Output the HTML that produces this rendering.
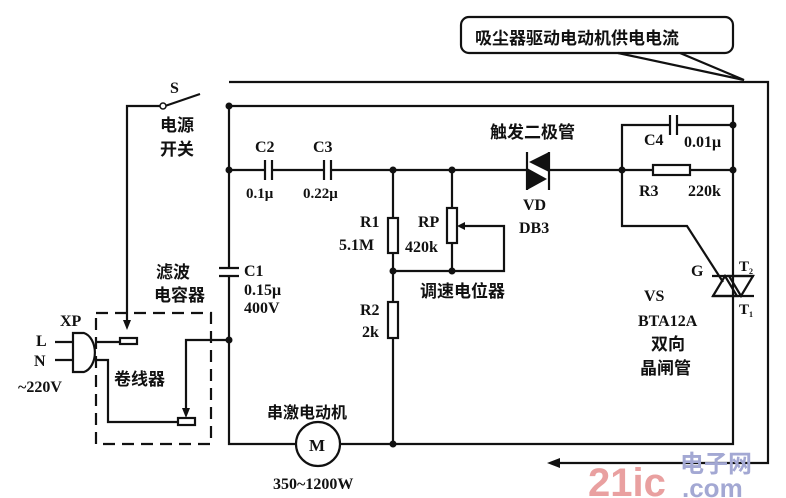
<!DOCTYPE html>
<html><head><meta charset="utf-8"><style>
html,body{margin:0;padding:0;background:#fff}
svg{display:block}
text{font-family:"Liberation Serif","Noto Serif CJK SC","Noto Sans CJK SC",serif;font-weight:bold;fill:#111}
.c{font-family:"Liberation Sans","Noto Sans CJK SC",sans-serif;font-weight:bold}
</style></head><body>
<svg width="786" height="498" viewBox="0 0 786 498" xmlns="http://www.w3.org/2000/svg">
<g stroke="#111" stroke-width="2.2" fill="none">
<rect x="461" y="17" width="272" height="36" rx="8"/>
<polyline points="618,53 744,80 680,53"/>
<polyline points="229,82 768,82 768,463 555,463"/>
<polyline points="229,268 229,106 733,106 733,444 229,444 229,276"/>
<polyline points="160,106 127,106 127,322"/>
<line x1="165" y1="106" x2="200" y2="94"/>
<line x1="229" y1="170" x2="265" y2="170"/><line x1="272" y1="170" x2="324" y2="170"/><line x1="331" y1="170" x2="527" y2="170"/>
<line x1="549" y1="170" x2="733" y2="170"/>
<line x1="265" y1="160" x2="265" y2="180"/><line x1="272" y1="160" x2="272" y2="180"/>
<line x1="324" y1="160" x2="324" y2="180"/><line x1="331" y1="160" x2="331" y2="180"/>
<line x1="393" y1="170" x2="393" y2="444"/>
<rect x="388" y="218" width="10" height="35" fill="#fff"/>
<rect x="388" y="302" width="10" height="36" fill="#fff"/>
<line x1="393" y1="271" x2="452" y2="271"/>
<line x1="452" y1="170" x2="452" y2="271"/>
<rect x="447" y="208" width="10" height="35" fill="#fff"/>
<polyline points="462,226 504,226 504,271 452,271"/>
<line x1="527" y1="152" x2="527" y2="190"/><line x1="549" y1="152" x2="549" y2="190"/>
<polyline points="670,125 622,125 622,226 687,226 723,282"/>
<line x1="677" y1="125" x2="733" y2="125"/>
<line x1="670" y1="115" x2="670" y2="135"/><line x1="677" y1="115" x2="677" y2="135"/>
<rect x="653" y="165" width="37" height="10" fill="#fff"/>
<line x1="712" y1="276" x2="754" y2="276"/><line x1="712" y1="296" x2="754" y2="296"/>
<polygon points="713,296 725,276 737,296"/><polygon points="729,276 753,276 741,296"/>
<line x1="219" y1="268" x2="239" y2="268"/><line x1="219" y1="276" x2="239" y2="276"/>
<path d="M73,333 L84,333 A14,20 0 0 1 84,372 L73,372 Z"/>
<line x1="55" y1="342" x2="73" y2="342"/><line x1="55" y1="360" x2="73" y2="360"/>
<line x1="95" y1="342" x2="120" y2="342"/>
<polyline points="95,360 108,360 108,422 178,422"/>
<rect x="120" y="338" width="17" height="6"/>
<rect x="178" y="418" width="17" height="7"/>
<polyline points="229,340 186,340 186,414"/>
<rect x="96" y="313" width="115" height="131" stroke-dasharray="12,7"/>
<circle cx="318" cy="444" r="22" fill="#fff"/>
</g>
<g fill="#111">
<polygon points="549,152 549,172 529,162"/><polygon points="527,168 527,190 547,179"/>
<circle cx="229" cy="106" r="3.5"/><circle cx="229" cy="170" r="3.5"/><circle cx="229" cy="340" r="3.5"/>
<circle cx="393" cy="170" r="3.5"/><circle cx="452" cy="170" r="3.5"/><circle cx="393" cy="271" r="3.5"/><circle cx="452" cy="271" r="3.5"/><circle cx="393" cy="444" r="3.5"/>
<circle cx="622" cy="170" r="3.5"/><circle cx="733" cy="170" r="3.5"/><circle cx="733" cy="125" r="3.5"/>
<circle cx="163" cy="106" r="3" fill="#fff" stroke="#111" stroke-width="1.5"/>
<polygon points="547,463 560,458 560,468"/>
<polygon points="457,226 465,222 465,230"/>
<polygon points="127,330 123,320 131,320"/><polygon points="186,418 182,408 190,408"/>
</g>
<text x="475" y="44" font-size="17" class="c">吸尘器驱动电动机供电电流</text>
<text x="170" y="93" font-size="16">S</text>
<text x="160" y="131" font-size="17" class="c">电源</text><text x="160" y="155" font-size="17" class="c">开关</text>
<text x="255" y="152" font-size="16">C2</text><text x="313" y="152" font-size="16">C3</text>
<text x="246" y="198" font-size="15">0.1μ</text><text x="303" y="198" font-size="15">0.22μ</text>
<text x="360" y="227" font-size="16">R1</text><text x="339" y="250" font-size="16">5.1M</text>
<text x="418" y="227" font-size="16">RP</text><text x="405" y="252" font-size="16">420k</text>
<text x="360" y="315" font-size="16">R2</text><text x="362" y="337" font-size="16">2k</text>
<text x="490" y="138" font-size="17" class="c">触发二极管</text>
<text x="523" y="210" font-size="16">VD</text><text x="519" y="233" font-size="16">DB3</text>
<text x="644" y="145" font-size="16">C4</text><text x="684" y="147" font-size="16">0.01μ</text>
<text x="639" y="196" font-size="16">R3</text><text x="688" y="196" font-size="16">220k</text>
<text x="420" y="297" font-size="17" class="c">调速电位器</text>
<text x="691" y="276" font-size="16">G</text><text x="739" y="271" font-size="15">T</text><text x="749" y="274" font-size="8">2</text>
<text x="739" y="314" font-size="15">T</text><text x="749" y="317" font-size="8">1</text>
<text x="644" y="301" font-size="16">VS</text><text x="638" y="326" font-size="16">BTA12A</text>
<text x="651" y="350" font-size="17" class="c">双向</text><text x="640" y="374" font-size="17" class="c">晶闸管</text>
<text x="244" y="276" font-size="16">C1</text><text x="244" y="295" font-size="16">0.15μ</text><text x="244" y="313" font-size="16">400V</text>
<text x="156" y="278" font-size="17" class="c">滤波</text><text x="154" y="301" font-size="17" class="c">电容器</text>
<text x="60" y="326" font-size="16">XP</text><text x="36" y="346" font-size="16">L</text><text x="34" y="366" font-size="16">N</text>
<text x="18" y="392" font-size="16">~220V</text>
<text x="114" y="385" font-size="17" class="c">卷线器</text>
<text x="267" y="418" font-size="16" class="c">串激电动机</text>
<text x="309" y="451" font-size="17">M</text>
<text x="273" y="489" font-size="16">350~1200W</text>
<text x="588" y="496" font-size="40" class="c" style="fill:#e9a0a0">21ic</text>
<text x="680" y="472" font-size="24" class="c" style="fill:#a3a8d3">电子网</text>
<text x="682" y="497" font-size="26" class="c" style="fill:#a3a8d3">.com</text>
</svg>
</body></html>
